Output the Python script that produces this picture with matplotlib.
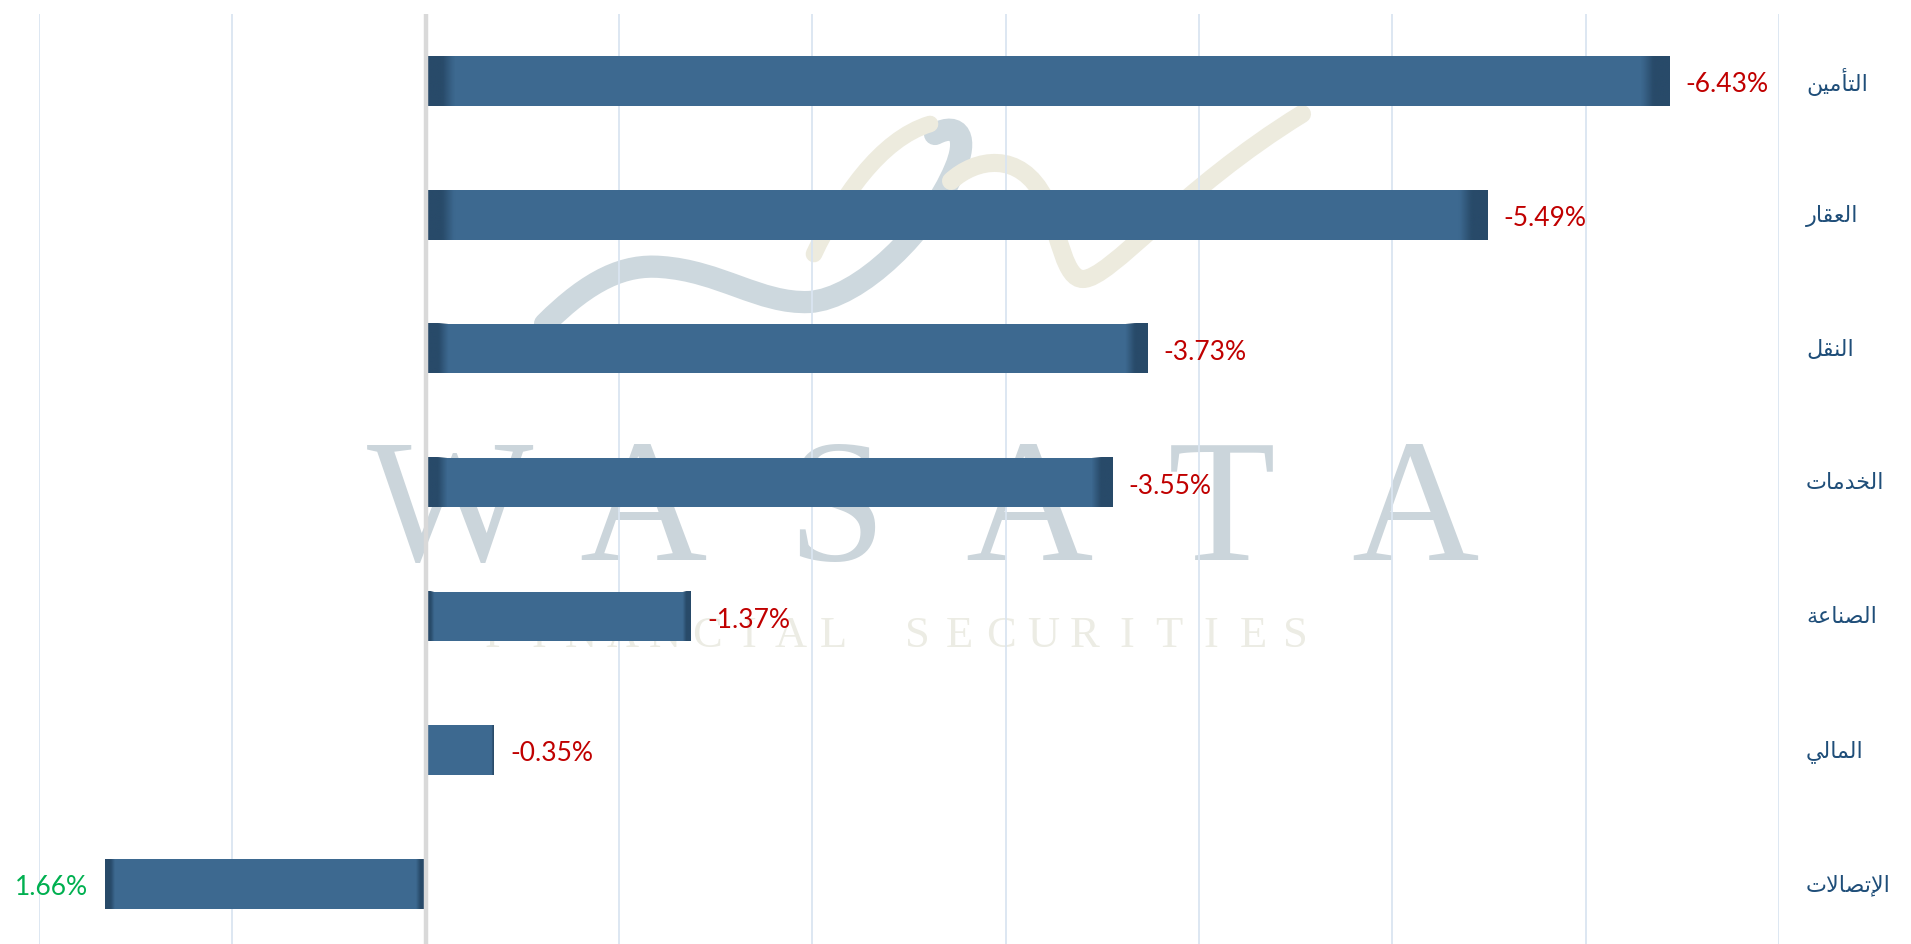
import matplotlib
matplotlib.use('Agg')
import matplotlib.pyplot as plt
import matplotlib.transforms as mtransforms
import numpy as np
from matplotlib.colors import to_rgb
from matplotlib.path import Path
from matplotlib.patches import PathPatch

# data (sector performance, %)
sectors = ['التأمين', 'العقار', 'النقل', 'الخدمات', 'الصناعة', 'المالي', 'الإتصالات']
changes = [-6.43, -5.49, -3.73, -3.55, -1.37, -0.35, 1.66]
grid_ticks = [2, 1, 0, -1, -2, -3, -4, -5, -6, -7]

BAR = '#3D6990'
DARK = '#284A69'

# matplotlib does no arabic shaping -> map letters to presentation forms by hand
# (isolated, final, initial, medial)
FORMS = {
    'ا': (0xFE8D, 0xFE8E), 'أ': (0xFE83, 0xFE84), 'إ': (0xFE87, 0xFE88),
    'د': (0xFEA9, 0xFEAA), 'ر': (0xFEAD, 0xFEAE), 'ة': (0xFE93, 0xFE94),
    'ل': (0xFEDD, 0xFEDE, 0xFEDF, 0xFEE0), 'ت': (0xFE95, 0xFE96, 0xFE97, 0xFE98),
    'م': (0xFEE1, 0xFEE2, 0xFEE3, 0xFEE4), 'ي': (0xFEF1, 0xFEF2, 0xFEF3, 0xFEF4),
    'ن': (0xFEE5, 0xFEE6, 0xFEE7, 0xFEE8), 'ع': (0xFEC9, 0xFECA, 0xFECB, 0xFECC),
    'ق': (0xFED5, 0xFED6, 0xFED7, 0xFED8), 'خ': (0xFEA5, 0xFEA6, 0xFEA7, 0xFEA8),
    'ص': (0xFEB9, 0xFEBA, 0xFEBB, 0xFEBC),
    'لا': (0xFEFB, 0xFEFC), 'لأ': (0xFEF7, 0xFEF8), 'لإ': (0xFEF9, 0xFEFA),
}


def shape(word):
    units = []
    i = 0
    while i < len(word):
        if word[i:i + 2] in FORMS:
            units.append(word[i:i + 2])
            i += 2
        else:
            units.append(word[i])
            i += 1
    out = []
    for k, u in enumerate(units):
        f = FORMS[u]
        prev = k > 0 and len(FORMS[units[k - 1]]) == 4
        nxt = k < len(units) - 1 and len(f) == 4
        idx = (3 if prev else 2) if nxt else (1 if prev else 0)
        out.append(chr(f[idx]))
    return ''.join(reversed(out))


W, H = 1911, 945
fig = plt.figure(figsize=(W / 100, H / 100), dpi=100)
ax = fig.add_axes([39 / W, -7 / H, 1740 / W, 937 / H])
ax.axis('off')


def px(x, y):
    return (x / W, 1 - y / H)


# watermark (logo swoosh + lettering)
C4, M = Path.CURVE4, Path.MOVETO
swoosh = [
    ([(545, 325), (590, 280), (625, 265), (661, 268), (720, 272), (760, 305), (809, 303),
      (860, 300), (930, 230), (955, 170), (968, 140), (960, 122), (935, 135)], '#CDD8DE', 16),
    ([(814, 255), (840, 200), (880, 140), (930, 125)], '#EDEBDE', 12),
    ([(951, 182), (975, 160), (1020, 150), (1045, 200), (1060, 240), (1065, 280), (1083, 280),
      (1110, 280), (1180, 190), (1302, 115)], '#EDEBDE', 13),
]
for pts, col, lw in swoosh:
    p = Path([px(*q) for q in pts], [M] + [C4] * (len(pts) - 1))
    fig.add_artist(PathPatch(p, fill=False, edgecolor=col, lw=lw, capstyle='round',
                             transform=fig.transFigure, zorder=-2))

for k, ch in enumerate('WASATA'):
    fig.text(*px(450 + 193 * k, 560), ch, ha='center', va='baseline',
             fontsize=127, family='Liberation Serif', color='#CBD5DB', zorder=-1)
for k, ch in enumerate('FINANCIAL SECURITIES'):
    fig.text(*px(497 + 42 * k, 647), ch, ha='center', va='baseline',
             fontsize=32, family='Liberation Serif', color='#ECECE4', zorder=-1)

y = np.arange(len(sectors))
for t in grid_ticks:
    if t != 0:
        ax.axvline(t, color='#DAE5F1', lw=1.3, zorder=1)
ax.axvline(0, color='#D9D9D9', lw=3.2, zorder=4)

bar_h = 0.37
ax.barh(y, changes, height=bar_h, color=BAR, zorder=2)

# darker ends to fake the cylinder look
dark = np.array(to_rgb(DARK))
for yi, v in zip(y, changes):
    n = 400
    d = np.linspace(0, abs(v), n)
    w = min(0.14, 0.03 * abs(v))
    edge = np.minimum(d, abs(v) - d)
    a = np.clip(1 - (edge - w * 0.55) / (w * 0.45), 0, 1)
    img = np.zeros((1, n, 4))
    img[..., :3] = dark
    img[0, :, 3] = a
    ax.imshow(img, extent=(0, v, yi + bar_h / 2, yi - bar_h / 2), aspect='auto',
              zorder=3, interpolation='bilinear')

for yi, v in zip(y, changes):
    neg = v < 0
    ax.annotate(f'{v:.2f}%', (v, yi), xytext=(12 if neg else -12, -2),
                textcoords='offset points', ha='left' if neg else 'right',
                va='center', color='#C00000' if neg else '#00B050',
                fontsize=19, family='Lato')

trans = mtransforms.blended_transform_factory(ax.transAxes, ax.transData)
for yi, s in zip(y, sectors):
    ax.text(1.0155, yi, shape(s), transform=trans, ha='left', va='center',
            fontsize=16, color='#1F4E79', family='DejaVu Sans')

ax.set_xlim(2, -7)
ax.set_ylim(6.5, -0.5)

fig.savefig('out.png', dpi=100)
